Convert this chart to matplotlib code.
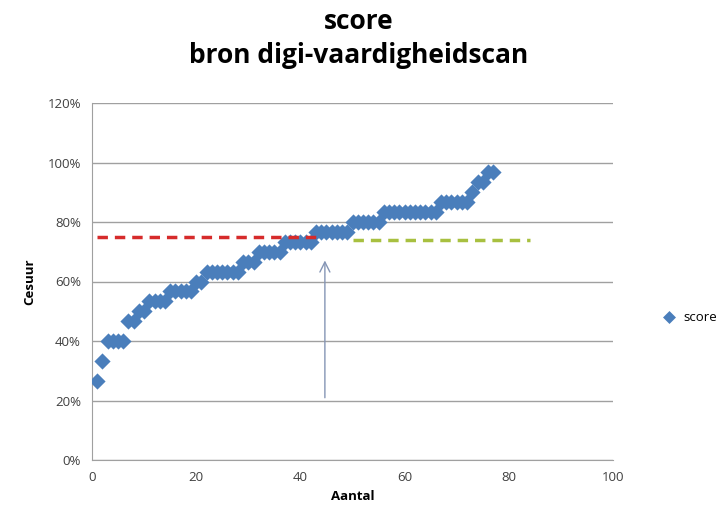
import matplotlib
matplotlib.use("Agg")
import matplotlib.pyplot as plt
from matplotlib.ticker import PercentFormatter

# score levels (percent) and how many participants got each one
levels = [26.7, 33.3, 40.0, 46.7, 50.0, 53.3, 56.7, 60.0, 63.3, 66.7,
          70.0, 73.3, 76.7, 80.0, 83.3, 86.7, 90.0, 93.3, 96.7]
counts = [1, 1, 4, 2, 2, 4, 5, 2, 7, 3, 5, 6, 7, 6, 11, 6, 1, 2, 2]

scores = []
for lvl, n in zip(levels, counts):
    scores += [lvl / 100] * n
aantal = list(range(1, len(scores) + 1))

# cesuur lines
red_x = [1, 44]
red_y = [0.75, 0.75]
green_x = [50, 84]
green_y = [0.74, 0.74]
arrow_x = 44.7
arrow_from = 0.20
arrow_to = 0.68

plt.rcParams['font.family'] = ['Open Sans', 'DejaVu Sans']

fig = plt.figure(figsize=(7.18, 5.24), dpi=100)
ax = fig.add_axes([92 / 718, 64 / 524, 521 / 718, 357 / 524])

ax.scatter(aantal, scores, marker='D', s=68, color='#4a7ebb', zorder=3,
           label='score', linewidths=0)
ax.plot(red_x, red_y, '--', color='#d62b2b', lw=2.5, dashes=(3, 2), zorder=4)
ax.plot(green_x, green_y, '--', color='#a8c040', lw=2.5, dashes=(3, 2), zorder=4)
ax.annotate('', xy=(arrow_x, arrow_to), xytext=(arrow_x, arrow_from),
            arrowprops=dict(arrowstyle='->', color='#8595b5', lw=1,
                            mutation_scale=18), zorder=4)

ax.set_xlim(0, 100)
ax.set_ylim(0, 1.2)
ax.set_xticks(range(0, 101, 20))
ax.set_yticks([i / 10 for i in range(0, 13, 2)])
ax.yaxis.set_major_formatter(PercentFormatter(1.0, decimals=0))
ax.grid(axis='y', color='#a0a0a0', lw=1)
ax.set_axisbelow(True)
for s in ['top', 'right']:
    ax.spines[s].set_visible(False)
for s in ['left', 'bottom']:
    ax.spines[s].set_color('#a0a0a0')
ax.tick_params(length=0, labelsize=9.5, colors='#404040', pad=8)

ax.set_xlabel('Aantal', fontsize=9.5, fontweight='bold', labelpad=4)
ax.set_ylabel('Cesuur', fontsize=9.5, fontweight='bold', labelpad=8)

fig.suptitle('score\nbron digi-vaardigheidscan', fontsize=19, fontweight='bold',
             y=0.985, linespacing=1.32)

ax.legend(loc='center left', bbox_to_anchor=(1.06, 0.4), frameon=False,
          fontsize=9.5, handletextpad=0.1, markerscale=0.8)

fig.savefig('out.png', dpi=100)
